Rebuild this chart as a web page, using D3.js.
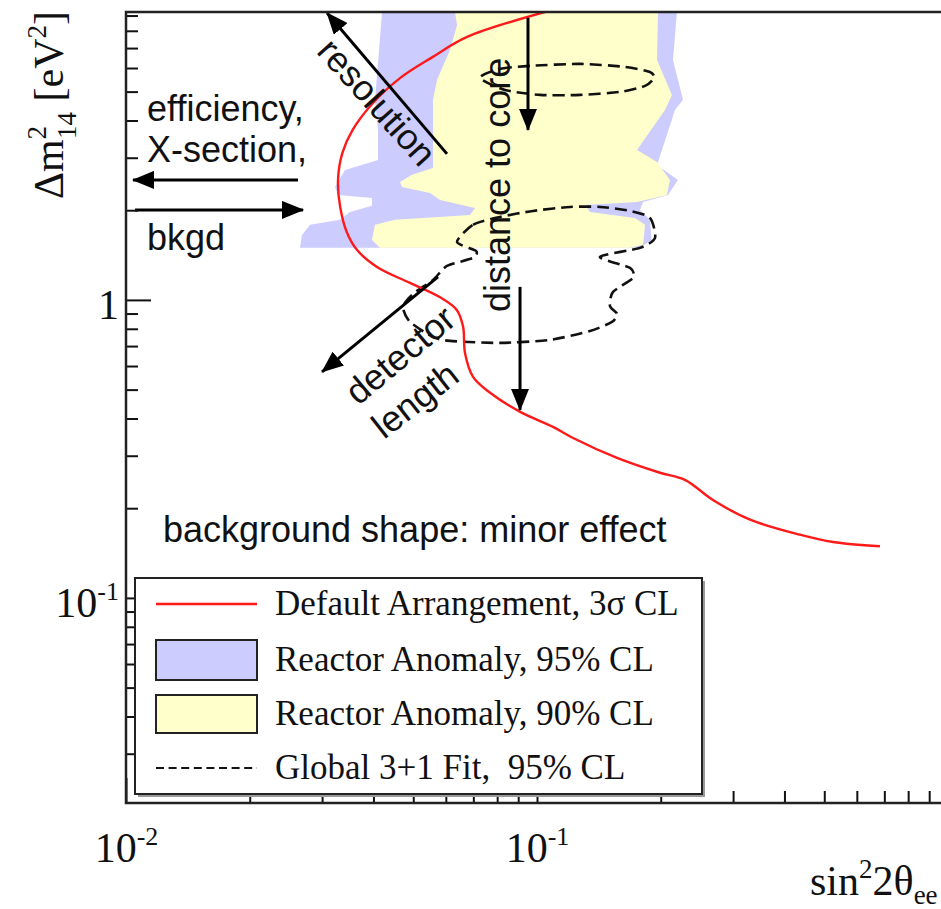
<!DOCTYPE html>
<html lang="en">
<head>
<meta charset="utf-8">
<title>Sensitivity: sin^2 2theta_ee vs dm^2_14</title>
<script src="https://d3js.org/d3.v7.min.js"></script>
<style>
  body { margin: 0; background: #fff; }
  svg { display: block; }
  .serif { font-family: 'Liberation Serif', 'Times New Roman', serif; }
  .sans { font-family: 'Liberation Sans', Arial, sans-serif; }
</style>
</head>
<body>
<div id="chart"></div>
<script>
// ---- data (sin^2 2theta, dm^2 in eV^2) ----
var defaultX = [0.1045, 0.0676, 0.0558, 0.0465, 0.0399, 0.0356, 0.0336, 0.0328, 0.0332, 0.0345,
                0.0365, 0.0408, 0.0491, 0.0581, 0.0638, 0.0661, 0.0668, 0.0699, 0.0769, 0.0910,
                0.1094, 0.1224, 0.1566, 0.1992, 0.229, 0.268, 0.330, 0.436, 0.525, 0.683];
var defaultY = [9.25, 7.63, 6.54, 5.56, 4.58, 3.72, 3.11, 2.53, 2.05, 1.68,
                1.47, 1.29, 1.14, 1.02, 0.925, 0.812, 0.664, 0.552, 0.488, 0.421,
                0.375, 0.344, 0.295, 0.263, 0.249, 0.213, 0.183, 0.163, 0.154, 0.149];

var anomaly95X = [0.04197, 0.2191, 0.2142, 0.2266, 0.2166, 0.2014, 0.1959, 0.2203, 0.2083, 0.1811,
                  0.1780, 0.1883, 0.1900, 0.1780, 0.02651, 0.02680, 0.02804, 0.03317, 0.03508, 0.03967,
                  0.03967, 0.03280, 0.03225, 0.03411, 0.04104, 0.04104, 0.04035, 0.04128];
var anomaly95Y = [9.25, 9.25, 6.389, 4.691, 4.342, 3.187, 2.838, 2.528, 2.251, 2.132,
                  2.005, 1.856, 1.590, 1.495, 1.495, 1.652, 1.786, 1.856, 1.974, 2.068,
                  2.199, 2.251, 2.394, 2.731, 2.950, 3.720, 4.691, 6.902];

var anomaly90X = [0.06318, 0.1970, 0.1959, 0.2130, 0.2048, 0.1751, 0.1959, 0.2106, 0.2071, 0.1751,
                  0.1309, 0.1346, 0.1731, 0.1832, 0.1811, 0.1684, 0.04150, 0.03967, 0.04035, 0.04513,
                  0.06871, 0.07066, 0.05808, 0.05491, 0.04694, 0.04642, 0.04965, 0.05585, 0.05585, 0.05711,
                  0.06142, 0.06389];
var anomaly90Y = [9.25, 9.25, 6.389, 4.875, 4.342, 3.187, 2.905, 2.528, 2.251, 2.132,
                  2.084, 1.974, 1.884, 1.786, 1.530, 1.495, 1.495, 1.590, 1.786, 1.856,
                  1.929, 2.036, 2.165, 2.286, 2.394, 2.489, 2.628, 2.773, 4.691, 5.473,
                  6.902, 8.372];

var globalUpperX = [0.07267, 0.08128, 0.09616, 0.1273, 0.1637, 0.1883, 0.1926, 0.1832, 0.1592, 0.1273, 0.1017, 0.08358];
var globalUpperY = [5.559, 5.959, 6.099, 6.194, 6.052, 5.822, 5.559, 5.226, 4.989, 4.875, 4.875, 5.067];

var globalLowerX = [0.06389, 0.06988, 0.08128, 0.09777, 0.1203, 0.1423, 0.1684, 0.1883, 0.1937, 0.1780,
                    0.1423, 0.1684, 0.1712, 0.1531, 0.1505, 0.1566, 0.1522, 0.1346, 0.1075, 0.08128,
                    0.06142, 0.05585, 0.04909, 0.04721, 0.04993, 0.05585, 0.06039, 0.06988, 0.07106];
var globalLowerY = [1.565, 1.786, 1.898, 1.989, 2.051, 2.051, 1.989, 1.884, 1.615, 1.495,
                    1.394, 1.280, 1.185, 1.064, 0.9547, 0.8975, 0.8436, 0.787, 0.7343, 0.7174,
                    0.7286, 0.7514, 0.8436, 0.9473, 1.047, 1.167, 1.300, 1.383, 1.460];

// axis ticks
var xMajor = [0.01, 0.1];
var xMinor = [0.02, 0.03, 0.04, 0.05, 0.06, 0.07, 0.08, 0.09, 0.2, 0.3, 0.4, 0.5, 0.6, 0.7, 0.8, 0.9];
var xTickLabels = [["10", "-2"], ["10", "-1"]];
var yMajor = [0.1, 1];
var yMinor = [0.03, 0.04, 0.05, 0.06, 0.07, 0.08, 0.09, 0.2, 0.3, 0.4, 0.5, 0.6, 0.7, 0.8, 0.9,
              2, 3, 4, 5, 6, 7, 8, 9];
var yTickLabels = [["10", "-1"], ["1", ""]];

var legendLabels = ["Default Arrangement, 3\u03c3 CL", "Reactor Anomaly, 95% CL",
                    "Reactor Anomaly, 90% CL", "Global 3+1 Fit,  95% CL"];

// ---- layout ----
var W = 941, H = 909;
var plotL = 126, plotT = 12, plotB = 803, plotR = 948;

var svg = d3.select("#chart").append("svg")
    .attr("width", W).attr("height", H);

var x = d3.scaleLog().domain([0.01, 1]).range([plotL, plotR]);
var y = d3.scaleLog().domain([0.0205, 9.25]).range([plotB, plotT]);

svg.append("clipPath").attr("id", "plot")
  .append("rect").attr("x", plotL).attr("y", plotT)
  .attr("width", plotR - plotL).attr("height", plotB - plotT);

var plot = svg.append("g").attr("clip-path", "url(#plot)");

function pts(xs, ys) { return xs.map(function(v, i) { return [v, ys[i]]; }); }

var poly = d3.line().x(function(d) { return x(d[0]); }).y(function(d) { return y(d[1]); });

// reactor anomaly regions
plot.append("path").datum(pts(anomaly95X, anomaly95Y))
  .attr("d", function(d) { return poly(d) + "Z"; })
  .attr("fill", "#ccccff");
plot.append("path").datum(pts(anomaly90X, anomaly90Y))
  .attr("d", function(d) { return poly(d) + "Z"; })
  .attr("fill", "#ffffcc");

// global fit contours
var loopLine = d3.line().x(function(d) { return x(d[0]); }).y(function(d) { return y(d[1]); })
  .curve(d3.curveCardinalClosed.tension(0.3));
[pts(globalUpperX, globalUpperY), pts(globalLowerX, globalLowerY)].forEach(function(c) {
  plot.append("path").datum(c).attr("d", loopLine)
    .attr("fill", "none").attr("stroke", "#111").attr("stroke-width", 2.6)
    .attr("stroke-dasharray", "12,6");
});

// default arrangement 3 sigma
plot.append("path").datum(pts(defaultX, defaultY))
  .attr("d", d3.line().x(function(d) { return x(d[0]); }).y(function(d) { return y(d[1]); })
    .curve(d3.curveCatmullRom))
  .attr("fill", "none").attr("stroke", "#ff1a1a").attr("stroke-width", 2.4);

// ---- annotation arrows ----
svg.append("defs").append("marker")
  .attr("id", "head").attr("viewBox", "0 0 22 18")
  .attr("refX", 21).attr("refY", 9)
  .attr("markerWidth", 22).attr("markerHeight", 18)
  .attr("markerUnits", "userSpaceOnUse").attr("orient", "auto")
  .append("path").attr("d", "M0,0 L22,9 L0,18 Z").attr("fill", "#000");

var arrows = [
  [0.02621, 2.528, 0.01040, 2.528],
  [0.01052, 2.005, 0.02696, 2.005],
  [0.06039, 3.090, 0.03085, 9.185],
  [0.09508, 8.84, 0.09508, 3.72],
  [0.09093, 1.106, 0.09093, 0.4274],
  [0.05743, 1.194, 0.02999, 0.5733]
];
svg.selectAll(".arrow").data(arrows).enter().append("line")
  .attr("class", "arrow")
  .attr("x1", function(d) { return x(d[0]); }).attr("y1", function(d) { return y(d[1]); })
  .attr("x2", function(d) { return x(d[2]); }).attr("y2", function(d) { return y(d[3]); })
  .attr("stroke", "#000").attr("stroke-width", 3)
  .attr("marker-end", "url(#head)");

// ---- annotation texts ----
var notes = [
  {t: "efficiency,", x: 0.01125, y: 3.988, a: 0, anchor: "start"},
  {t: "X-section,", x: 0.01125, y: 2.905, a: 0, anchor: "start"},
  {t: "bkgd", x: 0.01125, y: 1.472, a: 0, anchor: "start"},
  {t: "resolution", x: 0.04081, y: 4.617, a: 48, anchor: "middle"},
  {t: "distance to core", x: 0.0800, y: 2.432, a: -90, anchor: "middle"},
  {t: "detector", x: 0.04642, y: 0.6536, a: -40, anchor: "middle"},
  {t: "length", x: 0.0505, y: 0.4618, a: -38, anchor: "middle"},
  {t: "background shape: minor effect", x: 0.0123, y: 0.1541, a: 0, anchor: "start"}
];
svg.selectAll(".note").data(notes).enter().append("text")
  .attr("class", "note sans")
  .attr("transform", function(d) { return "translate(" + x(d.x) + "," + y(d.y) + ") rotate(" + d.a + ")"; })
  .attr("text-anchor", function(d) { return d.anchor; })
  .attr("dominant-baseline", function(d) { return d.anchor === "middle" ? "central" : "alphabetic"; })
  .attr("font-size", 36).attr("fill", "#111")
  .text(function(d) { return d.t; });

// ---- axes (ticks inside, ROOT style) ----
function supLabel(sel, labels, values) {
  sel.selectAll(".tick text").each(function(v) {
    var i = values.indexOf(v);
    var t = d3.select(this).text(null);
    t.append("tspan").text(labels[i][0]);
    if (labels[i][1]) t.append("tspan").attr("font-size", 26).attr("dy", -17).text(labels[i][1]);
  });
}

var yMinorAxis = svg.append("g").attr("transform", "translate(" + plotL + ",0)")
  .call(d3.axisLeft(y).tickValues(yMinor).tickSize(-12).tickFormat(""));
var yMajorAxis = svg.append("g").attr("transform", "translate(" + plotL + ",0)")
  .call(d3.axisLeft(y).tickValues(yMajor).tickSize(-25).tickPadding(7).tickFormat(String));
yMajorAxis.selectAll(".tick text").attr("dy", "0.45em");
supLabel(yMajorAxis, yTickLabels, yMajor);

var xMinorAxis = svg.append("g").attr("transform", "translate(0," + plotB + ")")
  .call(d3.axisBottom(x).tickValues(xMinor).tickSize(-12).tickFormat(""));
var xMajorAxis = svg.append("g").attr("transform", "translate(0," + plotB + ")")
  .call(d3.axisBottom(x).tickValues(xMajor).tickSize(-25).tickFormat(String));
xMajorAxis.selectAll(".tick text").attr("y", 59).attr("dy", 0);
supLabel(xMajorAxis, xTickLabels, xMajor);

[yMinorAxis, yMajorAxis, xMinorAxis, xMajorAxis].forEach(function(g) {
  g.attr("font-family", "'Liberation Serif', 'Times New Roman', serif").attr("font-size", 42);
  g.select(".domain").remove();
  g.selectAll(".tick line").attr("stroke", "#111").attr("stroke-width", 2);
  g.selectAll(".tick text").attr("fill", "#111");
});

// frame
svg.append("rect").attr("x", plotL).attr("y", plotT)
  .attr("width", plotR - plotL).attr("height", plotB - plotT)
  .attr("fill", "none").attr("stroke", "#222").attr("stroke-width", 2.5);

// ---- legend ----
var lg = svg.append("g").attr("class", "serif");
lg.append("rect").attr("x", 138).attr("y", 581).attr("width", 567).attr("height", 216).attr("fill", "#999");
lg.append("rect").attr("x", 135).attr("y", 578).attr("width", 567).attr("height", 216)
  .attr("fill", "#fff").attr("stroke", "#222").attr("stroke-width", 2);

var rows = [604, 660, 714, 768];
lg.append("line").attr("x1", 156).attr("x2", 257).attr("y1", rows[0]).attr("y2", rows[0])
  .attr("stroke", "#ff1a1a").attr("stroke-width", 2.4);
lg.append("rect").attr("x", 156).attr("y", 640).attr("width", 101).attr("height", 40)
  .attr("fill", "#ccccff").attr("stroke", "#222").attr("stroke-width", 2);
lg.append("rect").attr("x", 156).attr("y", 695).attr("width", 101).attr("height", 38)
  .attr("fill", "#ffffcc").attr("stroke", "#222").attr("stroke-width", 2);
lg.append("line").attr("x1", 156).attr("x2", 257).attr("y1", rows[3]).attr("y2", rows[3])
  .attr("stroke", "#111").attr("stroke-width", 1.8).attr("stroke-dasharray", "8,4.6");

lg.selectAll(".lab").data(legendLabels).enter().append("text")
  .attr("class", "lab")
  .attr("x", 275).attr("y", function(d, i) { return rows[i] + 11; })
  .attr("font-size", 35).attr("fill", "#111")
  .style("white-space", "pre")
  .text(function(d) { return d; });

// ---- axis titles ----
var yt = svg.append("text").attr("class", "serif")
  .attr("transform", "rotate(-90)").attr("x", -105).attr("y", 63)
  .attr("text-anchor", "middle").attr("font-size", 42).attr("fill", "#111");
yt.append("tspan").text("\u0394m");
yt.append("tspan").attr("font-size", 27).attr("dy", -17).text("2");
yt.append("tspan").attr("font-size", 27).attr("dx", -13).attr("dy", 30).text("14");
yt.append("tspan").attr("dy", -13).text(" [eV");
yt.append("tspan").attr("font-size", 27).attr("dy", -17).text("2");
yt.append("tspan").attr("dy", 17).text("]");

var xt = svg.append("text").attr("class", "serif")
  .attr("x", 810).attr("y", 895).attr("font-size", 42).attr("fill", "#111");
xt.append("tspan").text("sin");
xt.append("tspan").attr("font-size", 27).attr("dy", -17).text("2");
xt.append("tspan").attr("dy", 17).text("2\u03b8");
xt.append("tspan").attr("font-size", 27).attr("dy", 9).text("ee");
</script>
</body>
</html>
